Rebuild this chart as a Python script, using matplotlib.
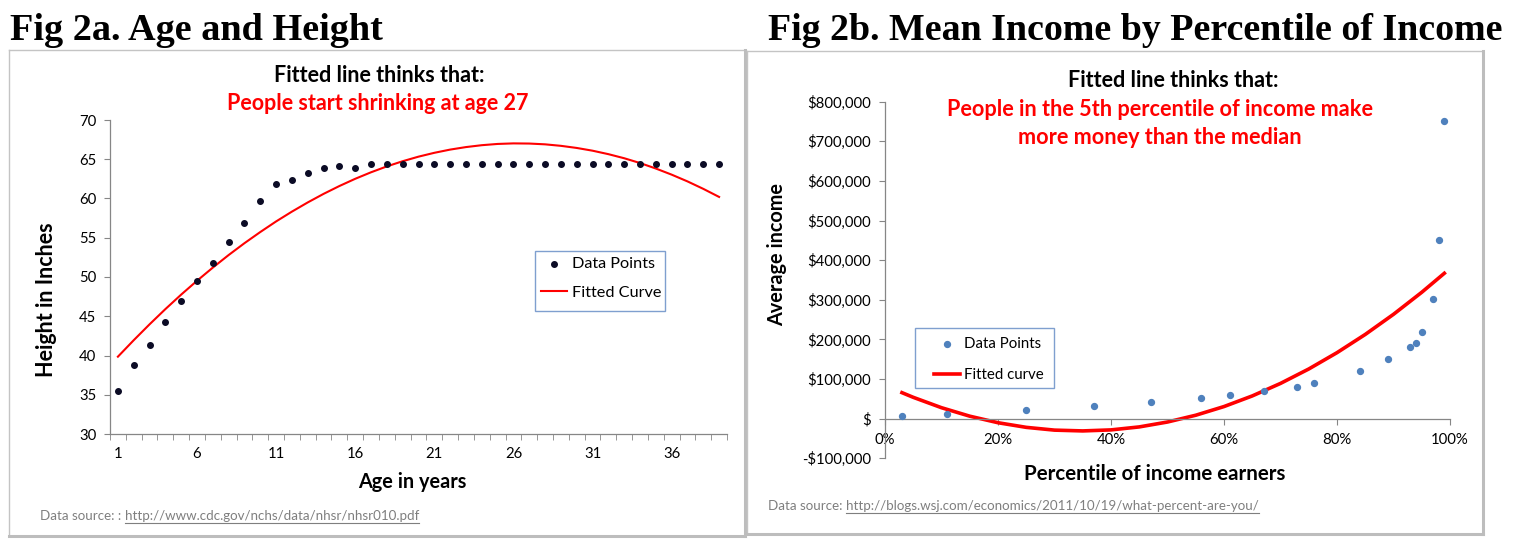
import matplotlib
matplotlib.use('Agg')
import matplotlib.pyplot as plt
import matplotlib.ticker as mticker
from matplotlib.lines import Line2D
from matplotlib.patches import Rectangle

plt.rcParams['font.family'] = ['Lato', 'DejaVu Sans']

W, H, DPI = 1516, 545, 100

# ---------------- Fig 2a data ----------------
ages = list(range(1, 40))
heights = [35.5, 38.8, 41.4, 44.3, 46.9, 49.5, 51.8, 54.5, 56.9, 59.7,
           61.8, 62.4, 63.3, 63.9, 64.2, 63.9, 64.35, 64.35, 64.4, 64.45,
           64.45, 64.45, 64.45, 64.45, 64.45, 64.45, 64.45, 64.45, 64.45, 64.45,
           64.45, 64.45, 64.45, 64.45, 64.45, 64.45, 64.45, 64.45, 64.45]
fitted_heights = [39.85, 41.95, 43.97, 45.91, 47.76, 49.52, 51.20, 52.80, 54.31, 55.73,
                  57.08, 58.33, 59.50, 60.59, 61.59, 62.51, 63.34, 64.09, 64.75, 65.33,
                  65.82, 66.23, 66.55, 66.79, 66.95, 67.02, 67.00, 66.90, 66.71, 66.44,
                  66.09, 65.65, 65.13, 64.52, 63.82, 63.04, 62.18, 61.23, 60.20]
age_tick_labels = [1, 6, 11, 16, 21, 26, 31, 36]
height_ticks = [30, 35, 40, 45, 50, 55, 60, 65, 70]

# ---------------- Fig 2b data ----------------
percentiles = [3, 11, 25, 37, 47, 56, 61, 67, 73, 76, 84, 89, 93, 94, 95, 97, 98, 99]
incomes = [6000, 12000, 21000, 31000, 41000, 51000, 61000, 71000, 81000, 91000,
           121000, 151000, 181000, 190000, 220000, 302000, 452000, 752000]
fit_percentiles = [3, 5, 10, 15, 20, 25, 30, 35, 40, 45, 50, 55, 60, 65, 70, 75, 80, 85, 90, 95, 99]
fit_incomes = [65700, 53900, 27700, 6300, -10200, -21900, -28900, -30900, -28300, -20800,
               -8400, 8700, 30600, 57400, 89000, 125400, 166600, 212600, 263400, 319000, 367000]
pct_ticks = [0, 20, 40, 60, 80, 100]
income_ticks = [-100000, 0, 100000, 200000, 300000, 400000, 500000, 600000, 700000, 800000]

GRAY = '#868686'
SRC = '#7f7f7f'
LEGEDGE = '#7f9fcf'

fig = plt.figure(figsize=(W / DPI, H / DPI), dpi=DPI)


def fx(px):
    return px / W


def fy(py):
    return 1 - py / H


def fig_line(x0, y0, x1, y1, **kw):
    fig.add_artist(Line2D([fx(x0), fx(x1)], [fy(y0), fy(y1)], transform=fig.transFigure, **kw))


def legend_box(ax, l, t, r, b):
    ax.add_patch(Rectangle((fx(l), fy(b)), (r - l) / W, (b - t) / H,
                           transform=fig.transFigure, clip_on=False,
                           facecolor='white', edgecolor=LEGEDGE, lw=1.0, zorder=4))


# ---------------- panel boxes ----------------
for (l, t, r, b) in [(9, 50, 745, 536), (747, 51, 1483, 534)]:
    fig_line(l, t, r, t, color='#c4c4c4', lw=1.0)
    fig_line(l, t, l, b, color='#c4c4c4', lw=1.0)
    fig_line(r, t, r, b, color='#bdbdbd', lw=2.2)
    fig_line(l, b, r, b, color='#bdbdbd', lw=2.2)

# ---------------- main titles ----------------
fig.text(fx(10), fy(40), 'Fig 2a. Age and Height', family='Liberation Serif',
         weight='bold', size=27.5, ha='left', va='baseline')
fig.text(fx(768), fy(40), 'Fig 2b. Mean Income by Percentile of Income', family='Liberation Serif',
         weight='bold', size=27.3, ha='left', va='baseline')


def style_axes(ax):
    for s in ['top', 'right']:
        ax.spines[s].set_visible(False)
    for s in ['left', 'bottom']:
        ax.spines[s].set_color(GRAY)
        ax.spines[s].set_linewidth(0.9)
    ax.set_facecolor('none')


# ---------------- Fig 2a ----------------
ax1 = fig.add_axes([fx(110), fy(434), (727 - 110) / W, (434 - 120) / H])
style_axes(ax1)
ax1.set_xlim(0.5, 39.5)
ax1.set_ylim(30, 70)
ax1.set_xticks(age_tick_labels)
ax1.set_xticks([a + 0.5 for a in [0] + ages], minor=True)
ax1.set_yticks(height_ticks)
ax1.tick_params(axis='x', which='major', length=0, pad=9.0, labelsize=10.7, colors='black')
ax1.tick_params(axis='x', which='minor', length=4, color=GRAY, direction='out')
ax1.tick_params(axis='y', length=4, color=GRAY, direction='out', labelsize=10.7, pad=6)
sc1 = ax1.scatter(ages, heights, s=16, color='#0b0b25', zorder=3, label='Data Points')
ln1, = ax1.plot(ages, fitted_heights, color='#ff0000', lw=1.5, label='Fitted Curve')
legend_box(ax1, 535, 251, 665, 311)
leg1 = ax1.legend(handles=[sc1, ln1], loc='upper left', bbox_to_anchor=(fx(541), fy(257)),
                  bbox_transform=fig.transFigure, borderaxespad=0, borderpad=0, fontsize=11.7,
                  frameon=False, handlelength=1.6, handletextpad=0.28, labelspacing=0.88,
                  scatterpoints=1)
leg1.set_zorder(6)

fig.text(fx(47), fy(300), 'Height in Inches', rotation=90, weight='bold', size=15.5,
         ha='center', va='center')
fig.text(fx(412), fy(481.5), 'Age in years', weight='bold', size=14.3, ha='center', va='center')
fig.text(fx(379), fy(75), 'Fitted line thinks that:', weight='bold', size=15.5, ha='center', va='center')
fig.text(fx(378), fy(103.5), 'People start shrinking at age 27', weight='bold', size=15.5,
         color='#ff0000', ha='center', va='center')

# ---------------- Fig 2b ----------------
ax2 = fig.add_axes([fx(885), fy(458.3), (1450 - 885) / W, (458.3 - 101.7) / H])
style_axes(ax2)
ax2.set_xlim(0, 100)
ax2.set_ylim(-100000, 800000)
ax2.spines['bottom'].set_position(('data', 0))
ax2.set_xticks(pct_ticks)
ax2.set_yticks(income_ticks)
ax2.xaxis.set_major_formatter(mticker.PercentFormatter(xmax=100, decimals=0))


def money(v, pos):
    if v == 0:
        return '$'
    if v < 0:
        return '-${:,.0f}'.format(-v)
    return '${:,.0f}'.format(v)


ax2.yaxis.set_major_formatter(mticker.FuncFormatter(money))
ax2.tick_params(axis='x', length=4, color=GRAY, direction='out', labelsize=10.7, pad=6)
ax2.tick_params(axis='y', length=4, color=GRAY, direction='out', labelsize=10.7, pad=6)
sc2 = ax2.scatter(percentiles, incomes, s=18, color='#4f81bd', zorder=3, label='Data Points')
ln2, = ax2.plot(fit_percentiles, fit_incomes, color='#ff0000', lw=2.6, label='Fitted curve')
legend_box(ax2, 915, 328, 1054, 388)
leg2 = ax2.legend(handles=[sc2, ln2], loc='upper left', bbox_to_anchor=(fx(934), fy(337)),
                  bbox_transform=fig.transFigure, borderaxespad=0, borderpad=0, fontsize=10.8,
                  frameon=False, handlelength=1.72, handletextpad=0.27, labelspacing=1.12,
                  scatterpoints=1)
leg2.set_zorder(6)

fig.text(fx(777), fy(254), 'Average income', rotation=90, weight='bold', size=14.3,
         ha='center', va='center')
fig.text(fx(1155), fy(473.5), 'Percentile of income earners', weight='bold', size=14.8,
         ha='center', va='center')
fig.text(fx(1173), fy(80.5), 'Fitted line thinks that:', weight='bold', size=15.5, ha='center', va='center')
fig.text(fx(1160), fy(109.5), 'People in the 5th percentile of income make', weight='bold', size=15.6,
         color='#ff0000', ha='center', va='center')
fig.text(fx(1160), fy(137.5), 'more money than the median', weight='bold', size=15.6,
         color='#ff0000', ha='center', va='center')

# ---------------- data sources ----------------
renderer = fig.canvas.get_renderer()


def source(x_px, y_px, prefix, url):
    t1 = fig.text(fx(x_px), fy(y_px), prefix, size=9.6, color=SRC, ha='left', va='baseline')
    bb = t1.get_window_extent(renderer)
    t2 = fig.text(bb.x1 / W, fy(y_px), url, size=9.6, color=SRC, ha='left', va='baseline')
    bb2 = t2.get_window_extent(renderer)
    fig.add_artist(Line2D([bb2.x0 / W, bb2.x1 / W], [fy(y_px + 2.5), fy(y_px + 2.5)],
                          transform=fig.transFigure, color=SRC, lw=0.8))


source(40, 520, 'Data source: : ', 'http://www.cdc.gov/nchs/data/nhsr/nhsr010.pdf')
source(768, 510.5, 'Data source: ', 'http://blogs.wsj.com/economics/2011/10/19/what-percent-are-you/')

fig.savefig('out.png', dpi=DPI)
